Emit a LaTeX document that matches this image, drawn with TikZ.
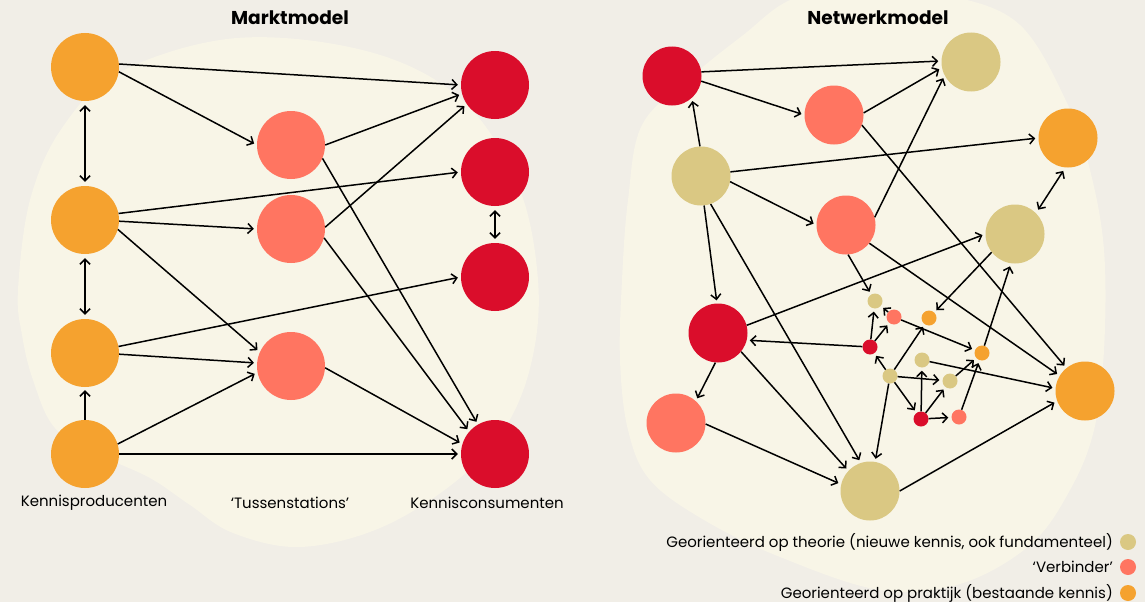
\documentclass[tikz,border=0pt]{standalone}
\usepackage{fontspec}
\setmainfont{Poppins}
\usetikzlibrary{arrows.meta}

\definecolor{bgcol}{HTML}{F1EEE7}
\definecolor{blobcol}{HTML}{F8F5E7}
\definecolor{prodcol}{HTML}{F5A22F}
\definecolor{tuscol}{HTML}{FF7561}
\definecolor{conscol}{HTML}{DA0D2B}
\definecolor{theocol}{HTML}{DAC883}

\begin{document}
\begin{tikzpicture}[x=1pt, y=-1pt, every node/.style={inner sep=0pt},
  >={Straight Barb[length=5pt,width=10pt]},
  arr/.style={->, line width=1.5pt, shorten >=3pt},
  dbl/.style={<->, line width=1.5pt, shorten >=4pt, shorten <=4pt},
  bigL/.style={circle, minimum size=68pt},
  bigR/.style={circle, minimum size=59pt},
  small/.style={circle, minimum size=15pt},
  lbl/.style={font=\fontsize{15}{17}\selectfont},
  ttl/.style={font=\fontsize{18.6}{21}\selectfont\bfseries}]

% Background and the two blobs
\fill[bgcol] (0,0) rectangle (1145,602);
\useasboundingbox (0,0) rectangle (1145,602);
\begin{scope}
\clip (0,0) rectangle (1145,602);
\fill[blobcol] plot[smooth cycle, tension=0.6] coordinates {(18,290) (30,200) (62,128) (120,72) (237,38) (370,52) (462,100) (518,185) (538,280) (532,360) (505,428) (455,482) (380,528) (300,547) (233,533) (190,505) (150,478) (100,455) (55,428) (33,380) (22,335)};
\fill[blobcol] plot[smooth cycle, tension=0.6] coordinates {(642,125) (628,200) (622,280) (620,360) (628,430) (650,480) (704,520) (780,557) (880,590) (960,584) (1030,545) (1070,490) (1094,430) (1104,350) (1104,250) (1090,170) (1068,105) (1020,25) (950,-4) (870,-10) (795,-2) (742,36) (690,78)};
\end{scope}

% Titles
\node[ttl] (ttlL) at (290,18) {Marktmodel};
\node[ttl] (ttlR) at (878,18) {Netwerkmodel};

% Market model: producers, stations, consumers
\node[bigL, fill=prodcol] (P1) at (85,67) {};
\node[bigL, fill=prodcol] (P2) at (85,220) {};
\node[bigL, fill=prodcol] (P3) at (85,353) {};
\node[bigL, fill=prodcol] (P4) at (85,454) {};
\node[bigL, fill=tuscol] (T1) at (291,145) {};
\node[bigL, fill=tuscol] (T2) at (291,229) {};
\node[bigL, fill=tuscol] (T3) at (291,366) {};
\node[bigL, fill=conscol] (C1) at (495,85) {};
\node[bigL, fill=conscol] (C2) at (495,172) {};
\node[bigL, fill=conscol] (C3) at (495,277) {};
\node[bigL, fill=conscol] (C4) at (495,454) {};

\node[lbl] (lprod) at (94,503) {Kennisproducenten};
\node[lbl] (ltus) at (290,503) {‘Tussenstations’};
\node[lbl] (lcons) at (487,503) {Kennisconsumenten};

\draw[arr] (P1.5) -- (C1.180);
\draw[arr] (P1.352) -- (T1.180);
\draw[dbl] (P1.270) -- (P2.90);
\draw[arr] (P2.11) -- (C2.180);
\draw[arr] (P2.358) -- (T2.180);
\draw[arr] (P2.344) -- (T3.156);
\draw[dbl] (P2.270) -- (P3.90);
\draw[arr] (P3.11) -- (C3.180);
\draw[arr] (P3.358) -- (T3.175);
\draw[arr] (P4.90) -- (P3.270);
\draw[arr] (P4.17) -- (T3.191);
\draw[arr] (P4.0) -- (C4.180);
\draw[arr] (T1.0) -- (C1.195);
\draw[arr] (T1.337) -- (C4.120);
\draw[arr] (T2.3) -- (C1.214);
\draw[arr] (T2.345) -- (C4.139);
\draw[arr] (T3.357) -- (C4.163);
\draw[dbl] (C2.270) -- (C3.90);

% Network model: big nodes
\node[bigR, fill=conscol] (R1) at (672,76) {};
\node[bigR, fill=tuscol] (S1) at (834,115) {};
\node[bigR, fill=theocol] (B1) at (971,62) {};
\node[bigR, fill=prodcol] (O1) at (1068,138) {};
\node[bigR, fill=theocol] (B2) at (701,176) {};
\node[bigR, fill=tuscol] (S2) at (846,225) {};
\node[bigR, fill=theocol] (B3) at (1015,234) {};
\node[bigR, fill=conscol] (R2) at (718,333) {};
\node[bigR, fill=tuscol] (S3) at (676,423) {};
\node[bigR, fill=theocol] (B4) at (870,491) {};
\node[bigR, fill=prodcol] (O2) at (1085,391) {};

% small nodes
\node[small, fill=theocol] (sb1) at (875,301) {};
\node[small, fill=tuscol] (ss1) at (894,317) {};
\node[small, fill=prodcol] (so1) at (929,318) {};
\node[small, fill=conscol] (sr1) at (870,347) {};
\node[small, fill=theocol] (sb2) at (922,360) {};
\node[small, fill=prodcol] (so2) at (982,353) {};
\node[small, fill=theocol] (sb3) at (890,376) {};
\node[small, fill=theocol] (sb4) at (950,381) {};
\node[small, fill=conscol] (sr2) at (921,419) {};
\node[small, fill=tuscol] (ss2) at (959,417) {};

\draw[arr] (R1.8) -- (B1.178);
\draw[arr] (R1.350) -- (S1.180);
\draw[arr] (S1.4) -- (B1.191);
\draw[arr] (B2.92) -- (R1.312);
\draw[arr] (B2.8) -- (O1.180);
\draw[arr] (B2.349) -- (S2.180);
\draw[arr] (S2.15) -- (B1.207);
\draw[dbl] (O1.265) -- (B3.45);
\draw[arr] (S1.340) -- (O2.129);
\draw[arr] (S2.322) -- (O2.149);
\draw[arr] (S2.274) -- (sb1);
\draw[arr] (B3.218) -- (so1);
\draw[arr] (so2) -- (B3.262);
\draw[arr] (sb2) -- (O2.175);
\draw[arr] (R2.15) -- (B3.180);
\draw[arr] (sr1) -- (R2.346);
\draw[arr] (R2.265) -- (S3.48);
\draw[arr] (R2.321) -- (B4.137);
\draw[arr] (B2.276) -- (R2.92);
\draw[arr] (B2.289) -- (B4.108);
\draw[arr] (S3.358) -- (B4.167);
\draw[arr] (B4.0) -- (O2.200);
\draw[arr] (sb3) -- (B4.80);

\draw[arr] (sr1) -- (sb1);
\draw[arr] (sr1) -- (ss1);
\draw[arr] (ss1) -- (sb1);
\draw[arr] (ss1) -- (so2);
\draw[arr] (sb3) -- (sr1);
\draw[arr] (sb3) -- (so1);
\draw[arr] (sb3) -- (sb4);
\draw[arr] (sb3) -- (sr2);
\draw[arr] (sr2) -- (sb2);
\draw[arr] (sr2) -- (sb4);
\draw[arr] (sr2) -- (ss2);
\draw[arr] (sb4) -- (so2);
\draw[arr] (ss2) -- (so2);

% Legend
\node[lbl, anchor=east] (leg1) at (1113,542) {Georienteerd op theorie (nieuwe kennis, ook fundamenteel)};
\node[lbl, anchor=east] (leg2) at (1113,567) {‘Verbinder’};
\node[lbl, anchor=east] (leg3) at (1113,593) {Georienteerd op praktijk (bestaande kennis)};
\node[small, fill=theocol, minimum size=16pt] (dot1) at (1128,542) {};
\node[small, fill=tuscol, minimum size=16pt] (dot2) at (1128,567) {};
\node[small, fill=prodcol, minimum size=16pt] (dot3) at (1128,593) {};

\end{tikzpicture}
\end{document}
